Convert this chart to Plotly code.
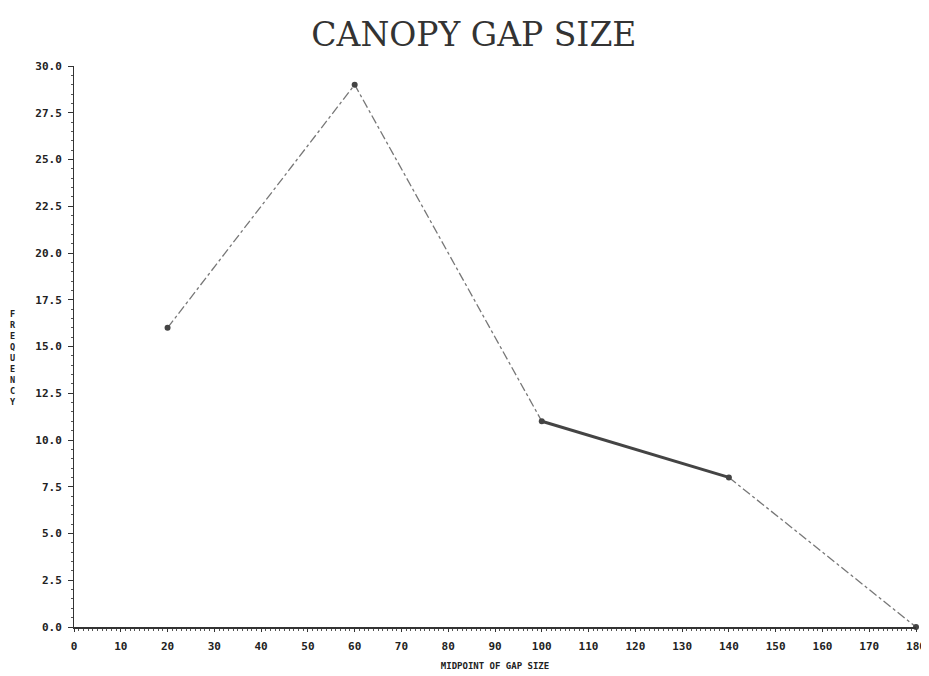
import plotly.graph_objects as go

midpoints = [20, 60, 100, 140, 180]
frequency = [16, 29, 11, 8, 0]
x_ticks = list(range(0, 181, 10))
y_ticks = [0, 2.5, 5, 7.5, 10, 12.5, 15, 17.5, 20, 22.5, 25, 27.5, 30]
y_labels = [f"{v:.1f}" for v in y_ticks]

fig = go.Figure()
# dash-dot segments
fig.add_trace(go.Scatter(x=midpoints[:3], y=frequency[:3], mode="lines",
                         line=dict(color="#777777", width=1.3, dash="dashdot"),
                         showlegend=False, hoverinfo="skip"))
fig.add_trace(go.Scatter(x=midpoints[3:], y=frequency[3:], mode="lines",
                         line=dict(color="#777777", width=1.3, dash="dashdot"),
                         showlegend=False, hoverinfo="skip"))
# solid thick segment
fig.add_trace(go.Scatter(x=midpoints[2:4], y=frequency[2:4], mode="lines",
                         line=dict(color="#444444", width=3),
                         showlegend=False, hoverinfo="skip"))
fig.add_trace(go.Scatter(x=midpoints, y=frequency, mode="markers",
                         marker=dict(color="#444444", size=6),
                         showlegend=False, cliponaxis=False))

tickfont = dict(family="DejaVu Sans Mono", size=11, color="#222222", weight="bold")
fig.update_layout(
    width=929, height=676,
    paper_bgcolor="white", plot_bgcolor="white",
    margin=dict(l=66, r=21, t=58, b=57, autoexpand=False),
    title=dict(text="CANOPY GAP SIZE", x=0.5015, xanchor="center", y=0.9615, yanchor="middle",
               font=dict(family="DejaVu Serif", size=33, color="#333333")),
    xaxis=dict(range=[0, 180], tickvals=x_ticks, ticktext=[str(v) for v in x_ticks],
               showgrid=False, zeroline=False, showline=True, linecolor="#333333", linewidth=2,
               ticks="outside", ticklen=3, tickcolor="#333333", ticklabelstandoff=5,
               minor=dict(ticks="outside", ticklen=2, dtick=1, tickcolor="#555555"),
               tickfont=tickfont, automargin=False,
               title=dict(text="MIDPOINT OF GAP SIZE", standoff=10,
                          font=dict(family="DejaVu Sans Mono", size=9, color="#222222", weight="bold"))),
    yaxis=dict(range=[0, 30], tickvals=y_ticks, ticktext=y_labels,
               showgrid=False, zeroline=False, showline=True, linecolor="#333333", linewidth=1,
               ticks="outside", ticklen=5, tickcolor="#333333", ticklabelstandoff=4,
               minor=dict(ticks="outside", ticklen=2, dtick=0.5, tickcolor="#555555"),
               tickfont=tickfont, automargin=False),
)
fig.add_annotation(text="F<br>R<br>E<br>Q<br>U<br>E<br>N<br>C<br>Y", xref="paper", yref="paper",
                   x=-0.0724, y=0.4795, xanchor="center", yanchor="middle", showarrow=False,
                   font=dict(family="DejaVu Sans Mono", size=8.5, color="#222222", weight="bold"))
fig.write_html("out.html")
